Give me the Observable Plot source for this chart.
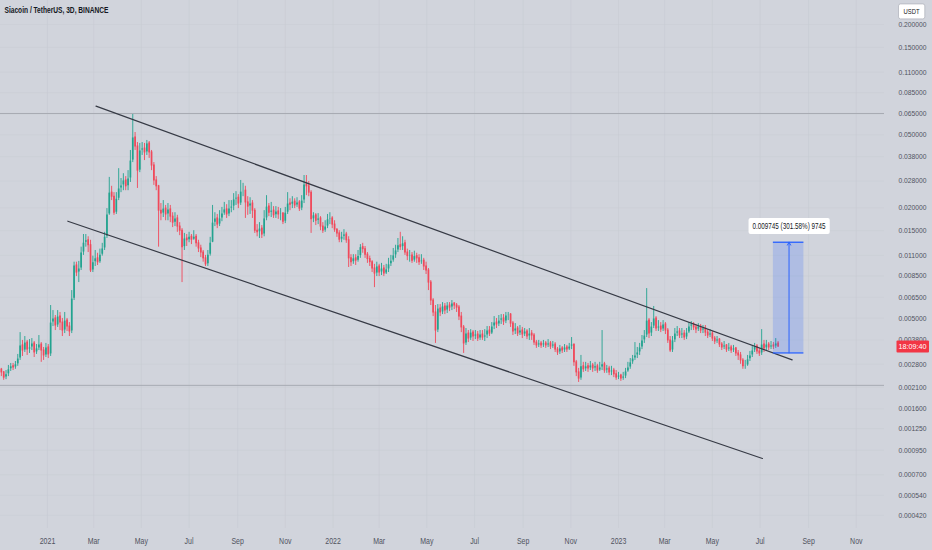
<!DOCTYPE html>
<html><head><meta charset="utf-8">
<script src="https://cdn.jsdelivr.net/npm/d3@7"></script>
<script src="https://cdn.jsdelivr.net/npm/@observablehq/plot@0.6"></script>
<style>
html,body{margin:0;padding:0;background:#d1d4dc;overflow:hidden}
#chart{position:relative;width:932px;height:550px}
</style></head><body><div id="chart"></div>
<script>
const title = "Siacoin / TetherUS, 3D, BINANCE";
const quoteLabel = "USDT";
const countdown = "18:09:40";
const firstCandle = "2020-11-03";
const candleDays = 3;
const firstOpen = 0.00262;

const closes = [
0.00253,0.00237,0.00247,0.00263,0.00273,0.00269,0.00280,0.00301,0.00355,0.00333,
0.00368,0.00337,0.00346,0.00364,0.00325,0.00342,0.00359,0.00333,0.00313,0.00346,
0.00317,0.00473,0.00498,0.00456,0.00510,0.00473,0.00428,0.00485,0.00450,0.00423,
0.00639,0.00969,0.00887,0.00933,0.0114,0.0129,0.0133,0.0125,0.00910,0.0101,
0.0106,0.0101,0.0111,0.0120,0.0139,0.0184,0.0242,0.0230,0.0188,0.0224,
0.0255,0.0265,0.0282,0.0262,0.0289,0.0362,0.0484,0.0432,0.0319,0.0411,
0.0421,0.0401,0.0449,0.0401,0.0340,0.0282,0.0262,0.0193,0.0186,0.0198,
0.0184,0.0196,0.0179,0.0166,0.0175,0.0158,0.0150,0.0122,0.0136,0.0133,
0.0139,0.0134,0.0139,0.0128,0.0120,0.0114,0.0106,0.00983,0.0111,0.0129,
0.0166,0.0175,0.0162,0.0175,0.0186,0.0196,0.0184,0.0198,0.0203,0.0222,
0.0227,0.0211,0.0245,0.0248,0.0214,0.0203,0.0211,0.0193,0.0150,0.0147,
0.0154,0.0143,0.0175,0.0203,0.0188,0.0193,0.0182,0.0191,0.0184,0.0186,
0.0168,0.0188,0.0211,0.0208,0.0216,0.0206,0.0214,0.0198,0.0219,0.0268,
0.0262,0.0242,0.0173,0.0182,0.0170,0.0175,0.0158,0.0150,0.0158,0.0173,
0.0175,0.0162,0.0152,0.0145,0.0134,0.0139,0.0143,0.0133,0.0106,0.0101,
0.0106,0.0103,0.0109,0.0122,0.0119,0.0111,0.0105,0.0101,0.00933,0.00876,
0.00957,0.00887,0.00933,0.00876,0.00922,0.00983,0.0103,0.0110,0.0117,0.0125,
0.0122,0.0128,0.0114,0.0109,0.0110,0.0103,0.0109,0.0106,0.0101,0.0103,
0.00957,0.00910,0.00782,0.00624,0.00537,0.00428,0.00564,0.00537,0.00579,0.00550,
0.00586,0.00571,0.00601,0.00586,0.00571,0.00510,0.00445,0.00364,0.00412,0.00387,
0.00417,0.00397,0.00407,0.00387,0.00407,0.00392,0.00402,0.00428,0.00412,0.00450,
0.00473,0.00462,0.00485,0.00498,0.00479,0.00517,0.00523,0.00467,0.00423,0.00439,
0.00412,0.00428,0.00407,0.00423,0.00397,0.00412,0.00402,0.00368,0.00355,0.00364,
0.00355,0.00364,0.00355,0.00364,0.00350,0.00359,0.00337,0.00325,0.00342,0.00333,
0.00346,0.00337,0.00350,0.00359,0.00287,0.00253,0.00234,0.00273,0.00263,0.00273,
0.00266,0.00276,0.00266,0.00273,0.00259,0.00269,0.00280,0.00259,0.00266,0.00253,
0.00259,0.00247,0.00237,0.00243,0.00234,0.00240,0.00256,0.00269,0.00287,0.00301,
0.00313,0.00325,0.00346,0.00378,0.00402,0.00485,0.00412,0.00450,0.00498,0.00439,
0.00450,0.00433,0.00462,0.00428,0.00378,0.00333,0.00378,0.00412,0.00423,0.00402,
0.00412,0.00392,0.00417,0.00450,0.00462,0.00445,0.00433,0.00450,0.00428,0.00439,
0.00417,0.00402,0.00412,0.00387,0.00373,0.00382,0.00359,0.00346,0.00355,0.00337,
0.00346,0.00333,0.00342,0.00321,0.00313,0.00294,0.00273,0.00276,0.00298,0.00313,
0.00333,0.00350,0.00329,0.00321,0.00359,0.00342,0.00359,0.00346,0.00355,0.00350,0.00364,0.00350
];
const highs = [
0.00266,0.00256,0.00259,0.00276,0.00283,0.00283,0.00290,0.00317,0.00417,0.00378,
0.00397,0.00378,0.00382,0.00387,0.00373,0.00359,0.00402,0.00368,0.00346,0.00364,
0.00359,0.00586,0.00550,0.00517,0.00550,0.00537,0.00498,0.00537,0.00498,0.00473,
0.00707,0.0101,0.0101,0.0102,0.0122,0.0143,0.0143,0.0139,0.0133,0.0109,
0.0117,0.0113,0.0119,0.0128,0.0147,0.0198,0.0293,0.0262,0.0242,0.0242,
0.0327,0.0289,0.0307,0.0296,0.0319,0.0411,0.0646,0.0515,0.0454,0.0449,
0.0454,0.0449,0.0466,0.0460,0.0411,0.0353,0.0296,0.0265,0.0211,0.0219,
0.0206,0.0211,0.0206,0.0188,0.0188,0.0182,0.0166,0.0154,0.0145,0.0143,
0.0147,0.0143,0.0150,0.0143,0.0133,0.0125,0.0117,0.0110,0.0117,0.0138,
0.0206,0.0188,0.0184,0.0193,0.0201,0.0214,0.0208,0.0219,0.0219,0.0239,
0.0245,0.0236,0.0282,0.0272,0.0262,0.0230,0.0227,0.0219,0.0198,0.0162,
0.0166,0.0160,0.0193,0.0233,0.0211,0.0214,0.0203,0.0203,0.0201,0.0198,
0.0188,0.0201,0.0242,0.0224,0.0230,0.0224,0.0227,0.0219,0.0233,0.0300,
0.0300,0.0278,0.0248,0.0188,0.0186,0.0186,0.0179,0.0166,0.0170,0.0184,
0.0188,0.0179,0.0170,0.0154,0.0150,0.0147,0.0152,0.0147,0.0139,0.0111,
0.0111,0.0111,0.0117,0.0126,0.0128,0.0123,0.0114,0.0109,0.0103,0.00983,
0.0101,0.00983,0.00995,0.00969,0.00983,0.0106,0.0110,0.0120,0.0125,0.0136,
0.0147,0.0139,0.0133,0.0119,0.0117,0.0114,0.0116,0.0113,0.0111,0.0111,
0.0106,0.0101,0.00933,0.00802,0.00639,0.00586,0.00593,0.00593,0.00608,0.00601,
0.00608,0.00608,0.00624,0.00608,0.00601,0.00586,0.00537,0.00456,0.00439,0.00428,
0.00433,0.00428,0.00428,0.00423,0.00428,0.00428,0.00433,0.00450,0.00450,0.00473,
0.00510,0.00498,0.00517,0.00523,0.00523,0.00537,0.00537,0.00530,0.00479,0.00467,
0.00450,0.00456,0.00445,0.00439,0.00433,0.00439,0.00428,0.00412,0.00378,0.00378,
0.00373,0.00378,0.00373,0.00382,0.00373,0.00373,0.00368,0.00346,0.00355,0.00350,
0.00359,0.00355,0.00364,0.00392,0.00359,0.00294,0.00266,0.00313,0.00287,0.00287,
0.00283,0.00290,0.00283,0.00287,0.00280,0.00287,0.00428,0.00287,0.00276,0.00273,
0.00273,0.00266,0.00259,0.00253,0.00247,0.00253,0.00266,0.00287,0.00301,0.00313,
0.00368,0.00346,0.00364,0.00402,0.00428,0.00725,0.00498,0.00473,0.00579,0.00510,
0.00485,0.00473,0.00485,0.00473,0.00439,0.00397,0.00397,0.00439,0.00450,0.00439,
0.00439,0.00428,0.00439,0.00473,0.00479,0.00473,0.00462,0.00467,0.00462,0.00456,
0.00456,0.00433,0.00433,0.00423,0.00397,0.00397,0.00387,0.00368,0.00373,0.00359,
0.00364,0.00355,0.00355,0.00346,0.00333,0.00325,0.00301,0.00294,0.00313,0.00329,
0.00350,0.00364,0.00359,0.00342,0.00433,0.00378,0.00378,0.00368,0.00373,0.00368,0.00387,0.00373
];
const lows = [
0.00240,0.00229,0.00231,0.00240,0.00256,0.00259,0.00263,0.00273,0.00294,0.00309,
0.00325,0.00313,0.00321,0.00333,0.00305,0.00317,0.00333,0.00287,0.00294,0.00305,
0.00301,0.00309,0.00450,0.00428,0.00445,0.00428,0.00397,0.00412,0.00423,0.00397,
0.00412,0.00624,0.00843,0.00782,0.00910,0.0110,0.0122,0.0114,0.00887,0.00887,
0.00957,0.00969,0.00995,0.0109,0.0117,0.0136,0.0182,0.0219,0.0182,0.0184,
0.0219,0.0242,0.0248,0.0248,0.0248,0.0275,0.0353,0.0411,0.0255,0.0311,
0.0386,0.0362,0.0386,0.0372,0.0319,0.0265,0.0248,0.0122,0.0170,0.0177,
0.0170,0.0170,0.0166,0.0156,0.0158,0.0147,0.0141,0.00782,0.0117,0.0123,
0.0129,0.0126,0.0133,0.0122,0.0114,0.0107,0.0101,0.00957,0.00957,0.0109,
0.0133,0.0158,0.0154,0.0158,0.0168,0.0182,0.0175,0.0179,0.0188,0.0193,
0.0206,0.0198,0.0206,0.0230,0.0175,0.0182,0.0184,0.0175,0.0145,0.0139,
0.0136,0.0136,0.0139,0.0170,0.0179,0.0177,0.0175,0.0175,0.0173,0.0170,
0.0162,0.0164,0.0184,0.0193,0.0198,0.0198,0.0201,0.0191,0.0193,0.0211,
0.0233,0.0230,0.0145,0.0166,0.0160,0.0162,0.0150,0.0145,0.0147,0.0154,
0.0162,0.0154,0.0147,0.0138,0.0129,0.0129,0.0133,0.0128,0.00945,0.00957,
0.00983,0.00969,0.0101,0.0106,0.0113,0.0106,0.00995,0.00957,0.00887,0.00734,
0.00843,0.00843,0.00854,0.00843,0.00865,0.00887,0.00957,0.0101,0.0106,0.0114,
0.0117,0.0117,0.0110,0.0103,0.0101,0.00995,0.0101,0.00995,0.00969,0.00983,
0.00910,0.00865,0.00707,0.00586,0.00510,0.00364,0.00417,0.00510,0.00523,0.00523,
0.00530,0.00543,0.00550,0.00557,0.00537,0.00485,0.00417,0.00321,0.00355,0.00368,
0.00378,0.00373,0.00382,0.00373,0.00378,0.00378,0.00373,0.00387,0.00397,0.00407,
0.00433,0.00439,0.00450,0.00462,0.00456,0.00467,0.00485,0.00445,0.00402,0.00407,
0.00397,0.00402,0.00387,0.00397,0.00382,0.00378,0.00378,0.00355,0.00342,0.00346,
0.00342,0.00346,0.00342,0.00346,0.00337,0.00342,0.00325,0.00313,0.00317,0.00321,
0.00325,0.00325,0.00333,0.00337,0.00273,0.00240,0.00223,0.00229,0.00253,0.00256,
0.00253,0.00259,0.00253,0.00256,0.00250,0.00256,0.00259,0.00250,0.00250,0.00243,
0.00243,0.00237,0.00229,0.00231,0.00226,0.00229,0.00234,0.00253,0.00263,0.00280,
0.00294,0.00301,0.00313,0.00337,0.00364,0.00392,0.00387,0.00397,0.00439,0.00423,
0.00423,0.00417,0.00423,0.00407,0.00364,0.00325,0.00325,0.00368,0.00397,0.00387,
0.00387,0.00378,0.00382,0.00412,0.00428,0.00428,0.00412,0.00423,0.00412,0.00412,
0.00397,0.00387,0.00392,0.00373,0.00359,0.00364,0.00346,0.00333,0.00337,0.00325,
0.00329,0.00321,0.00325,0.00309,0.00294,0.00280,0.00263,0.00263,0.00273,0.00290,
0.00305,0.00325,0.00317,0.00309,0.00313,0.00325,0.00333,0.00333,0.00337,0.00337,0.00342,0.00346
];

const yTicks = [0.2,0.15,0.11,0.085,0.065,0.05,0.038,0.028,0.02,0.015,0.011,0.0085,0.0065,0.005,0.0038,0.0028,0.0021,0.0016,0.00125,0.00095,0.0007,0.00054,0.00042];
const xTickDates = ["2021-01-01","2021-03-01","2021-05-01","2021-07-01","2021-09-01","2021-11-01",
  "2022-01-01","2022-03-01","2022-05-01","2022-07-01","2022-09-01","2022-11-01",
  "2023-01-01","2023-03-01","2023-05-01","2023-07-01","2023-09-01","2023-11-01"];
const xTickLabels = ["2021","Mar","May","Jul","Sep","Nov","2022","Mar","May","Jul","Sep","Nov","2023","Mar","May","Jul","Sep","Nov"];

const xDomain = ["2020-11-01T22:00Z","2023-12-07T01:00Z"];
const yDomain = [0.000356, 0.2704];

const channelUpper = [{date:"2021-03-04", price:0.0717},{date:"2023-08-11", price:0.00296}];
const channelLower = [{date:"2021-01-27", price:0.0169},{date:"2023-07-04", price:0.000858}];
const levels = [0.0654, 0.00215];
const measure = {start:"2023-07-18", end:"2023-08-26", mid:"2023-08-07", from:0.003231, to:0.012976};
const measureLabel = "0.009745 (301.58%) 9745";

// ---- build table
const D = s => new Date(s.length === 10 ? s + "T00:00:00Z" : s);
const t0 = D(firstCandle);
const candles = closes.map((c, i) => {
  const open = i ? closes[i - 1] : firstOpen;
  return {
    date: d3.utcDay.offset(t0, i * candleDays),
    open, close: c,
    high: Math.max(highs[i], open, c),
    low: Math.min(lows[i], open, c),
    up: c >= open
  };
});
const last = candles[candles.length - 1];
const upper = channelUpper.map(d => ({date: D(d.date), price: d.price}));
const lower = channelLower.map(d => ({date: D(d.date), price: d.price}));
const xt = xTickDates.map(D);
const labelOf = new Map(xt.map((d, i) => [+d, xTickLabels[i]]));
const m = {start: D(measure.start), end: D(measure.end), mid: D(measure.mid), from: measure.from, to: measure.to};
const xd = xDomain.map(D);

const GREEN = "#22a38f", RED = "#f0485a", BLUE = "#2962ff", AXIS = "#50535e";
const FONT = '"Liberation Sans", Arial, sans-serif';

const chart = Plot.plot({
  width: 932, height: 550,
  marginLeft: 0, marginRight: 48, marginTop: 0, marginBottom: 22,
  style: {background: "#d1d4dc", fontFamily: FONT, fontSize: "8px", color: AXIS, overflow: "visible"},
  x: {type: "utc", domain: xd, axis: null},
  y: {type: "log", domain: yDomain, axis: null},
  marks: [
    Plot.gridX(xt, {stroke: "#c8cbd3", strokeOpacity: 0.6}),
    Plot.gridY(yTicks, {stroke: "#c8cbd3", strokeOpacity: 0.45}),
    Plot.ruleY(levels, {stroke: "#a7aab3", strokeWidth: 1}),
    Plot.ruleX(candles, {x: "date", y1: "low", y2: "high", stroke: d => d.up ? GREEN : RED, strokeWidth: 0.9}),
    Plot.ruleX(candles, {x: "date", y1: "open", y2: "close", stroke: d => d.up ? GREEN : RED, strokeWidth: 1.7, insetTop: -0.5, insetBottom: -0.5}),
    Plot.line(upper, {x: "date", y: "price", stroke: "#363a45", strokeWidth: 1.2}),
    Plot.line(lower, {x: "date", y: "price", stroke: "#363a45", strokeWidth: 1.2}),
    Plot.rect([m], {x1: "start", x2: "end", y1: "from", y2: "to", fill: BLUE, fillOpacity: 0.2}),
    Plot.ruleY([m], {x1: "start", x2: "end", y: "from", stroke: BLUE, strokeWidth: 1.3}),
    Plot.ruleY([m], {x1: "start", x2: "end", y: "to", stroke: BLUE, strokeWidth: 1.3}),
    Plot.arrow([m], {x1: "mid", x2: "mid", y1: "from", y2: "to", stroke: BLUE, strokeWidth: 1, headLength: 5}),
    Plot.text([measureLabel], {x: () => m.mid, y: () => m.to, dy: -16, fill: "#131722", fontSize: 8.5, className: "mlabel"}),
    Plot.text(yTicks, {y: d => d, text: d => d.toFixed(6), frameAnchor: "right", dx: 14, textAnchor: "start", lineAnchor: "middle", fill: AXIS, fontSize: 7.6, className: "ylab"}),
    Plot.text(xt, {x: d => d, text: d => labelOf.get(+d), frameAnchor: "bottom", lineAnchor: "middle", dy: 13, fill: AXIS, fontSize: 8.5, className: "xlab"}),
    Plot.text([title], {frameAnchor: "top-left", dx: 4, dy: 6, fill: "#131722", fontSize: 9, fontWeight: 600, className: "ttl"}),
    Plot.text([quoteLabel], {frameAnchor: "top-right", dx: 27, dy: 11, textAnchor: "middle", lineAnchor: "middle", fill: "#131722", fontSize: 7.5, className: "quote"}),
    Plot.text([countdown], {x: () => xd[1], y: () => last.close, dx: 28, textAnchor: "middle", lineAnchor: "middle", fill: "#ffffff", fontSize: 8, className: "cdown"})
  ]
});
document.getElementById("chart").append(chart);

// narrow the text like the reference's condensed face
function squeeze(cls, target, factor) {
  d3.select(chart).selectAll(`g.${cls} text`).each(function () {
    const w = this.getComputedTextLength();
    const t = target != null ? Math.min(target, w) : w * factor;
    this.setAttribute("textLength", t);
    this.setAttribute("lengthAdjust", "spacingAndGlyphs");
  });
}
squeeze("ylab", 28);
squeeze("xlab", null, 0.82);
squeeze("ttl", 104);
squeeze("mlabel", 73);
squeeze("quote", 16);
squeeze("cdown", 28);

function boxBehind(cls, padX, padY, fill, stroke, rx) {
  d3.select(chart).selectAll(`g.${cls} text`).each(function () {
    const b = this.getBBox();
    const r = document.createElementNS("http://www.w3.org/2000/svg", "rect");
    r.setAttribute("x", b.x - padX);
    r.setAttribute("y", b.y - padY);
    r.setAttribute("width", b.width + 2 * padX);
    r.setAttribute("height", b.height + 2 * padY);
    r.setAttribute("rx", rx);
    r.setAttribute("fill", fill);
    if (stroke) { r.setAttribute("stroke", stroke); r.setAttribute("stroke-width", 0.8); }
    const tf = this.getAttribute("transform");
    if (tf) r.setAttribute("transform", tf);
    this.parentNode.insertBefore(r, this);
  });
}
boxBehind("mlabel", 4, 3, "#ffffff", null, 2);
boxBehind("quote", 5, 3, "#ffffff", "#b2b5be", 2);
boxBehind("cdown", 2, 1.5, "#f23645", null, 1);
</script></body></html>
